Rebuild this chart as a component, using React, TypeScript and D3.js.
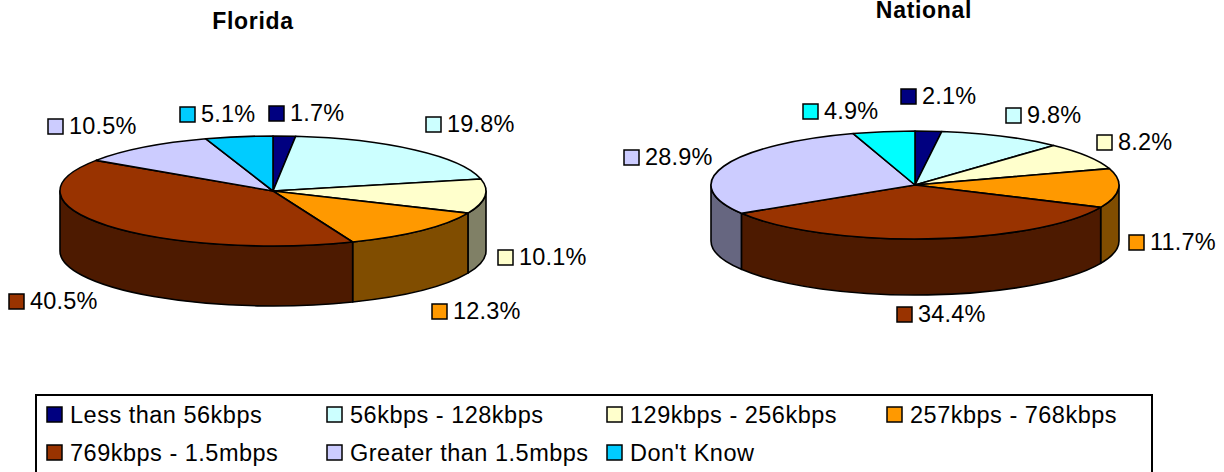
import * as d3 from "d3";

const categories = [
  "Less than 56kbps",
  "56kbps - 128kbps",
  "129kbps - 256kbps",
  "257kbps - 768kbps",
  "769kbps - 1.5mbps",
  "Greater than 1.5mbps",
  "Don't Know",
];
const floridaValues = [1.7, 19.8, 10.1, 12.3, 40.5, 10.5, 5.1];
const nationalValues = [2.1, 9.8, 8.2, 11.7, 34.4, 28.9, 4.9];
const sliceColors = ["#000080", "#CCFFFF", "#FFFFCC", "#FF9900", "#993300", "#CCCCFF", "#00CCFF"];
const nationalColors = ["#000080", "#CCFFFF", "#FFFFCC", "#FF9900", "#993300", "#CCCCFF", "#00FFFF"];

// Left edge of each data-label marker and the vertical centre of its text.
const floridaLabelSpots: [number, number][] = [
  [269, 113], [426, 124], [498, 257], [432, 311], [9, 301], [48, 126], [180, 114],
];
const nationalLabelSpots: [number, number][] = [
  [901, 96], [1006, 115], [1097, 142], [1129, 242], [897, 314], [624, 157], [803, 111],
];

const FONT = "'Liberation Sans', Arial, sans-serif";
const FONT_SIZE = 23.5;

type PieSpec = {
  title: string;
  titleX: number;
  titleY: number;
  values: number[];
  colors: string[];
  spots: [number, number][];
  cx: number;
  cy: number;
  rx: number;
  ry: number;
  depth: number;
};

function Pie3D({ title, titleX, titleY, values, colors, spots, cx, cy, rx, ry, depth }: PieSpec) {
  const arcs = d3.pie<number>().sort(null).startAngle(0).endAngle(2 * Math.PI)(values);
  const xAt = (t: number) => cx + rx * Math.sin(t);
  const yAt = (t: number) => cy - ry * Math.cos(t);
  const shade = (c: string) => d3.interpolateRgb(c, "#000000")(0.5);

  // The wall is only visible on the front half of the ellipse.
  const walls = arcs
    .map((a, i) => {
      const t0 = Math.max(a.startAngle, Math.PI / 2);
      const t1 = Math.min(a.endAngle, (3 * Math.PI) / 2);
      if (t1 <= t0) return null;
      const top = `M${xAt(t0)},${yAt(t0)}A${rx},${ry} 0 0 1 ${xAt(t1)},${yAt(t1)}`;
      const bottom = `L${xAt(t1)},${yAt(t1) + depth}A${rx},${ry} 0 0 0 ${xAt(t0)},${yAt(t0) + depth}Z`;
      return <path key={i} d={top + bottom} fill={shade(colors[i])} stroke="#000" strokeWidth={1.6} strokeLinejoin="round" />;
    })
    .filter(Boolean);

  const slices = arcs.map((a, i) => {
    const large = a.endAngle - a.startAngle > Math.PI ? 1 : 0;
    const d = `M${cx},${cy}L${xAt(a.startAngle)},${yAt(a.startAngle)}A${rx},${ry} 0 ${large} 1 ${xAt(a.endAngle)},${yAt(a.endAngle)}Z`;
    return <path key={i} d={d} fill={colors[i]} stroke="#000" strokeWidth={1.6} strokeLinejoin="round" />;
  });

  return (
    <g>
      <text x={titleX} y={titleY} textAnchor="middle" fontFamily={FONT} fontSize={23} letterSpacing={0.7} fontWeight="bold" fill="#000">
        {title}
      </text>
      {walls}
      {slices}
      {values.map((v, i) => (
        <g key={i}>
          <rect x={spots[i][0]} y={spots[i][1] - 7} width={15} height={15} fill={colors[i]} stroke="#000" strokeWidth={1.5} />
          <text x={spots[i][0] + 21} y={spots[i][1] + 8} fontFamily={FONT} fontSize={FONT_SIZE} letterSpacing={0.2} fill="#000">
            {`${v.toFixed(1)}%`}
          </text>
        </g>
      ))}
    </g>
  );
}

export default function App() {
  const legendColumn = d3.scalePoint<number>().domain([0, 1, 2, 3]).range([47, 887]);
  const legendRow = d3.scalePoint<number>().domain([0, 1]).range([415, 453]);
  return (
    <svg width={1224} height={472} style={{ position: "absolute", left: 0, top: 0, background: "#fff" }}>
      <Pie3D title="Florida" titleX={253} titleY={28.5} values={floridaValues} colors={sliceColors} spots={floridaLabelSpots} cx={273} cy={191} rx={213} ry={55} depth={60} />
      <Pie3D title="National" titleX={924} titleY={18} values={nationalValues} colors={nationalColors} spots={nationalLabelSpots} cx={915} cy={185} rx={204} ry={54} depth={56} />
      <rect x={36} y={395} width={1116} height={82} fill="#fff" stroke="#000" strokeWidth={2} />
      {categories.map((c, i) => {
        const col = i % 4;
        const row = Math.floor(i / 4);
        const x = legendColumn(col)!;
        const y = legendRow(row)!;
        return (
          <g key={c}>
            <rect x={x} y={y - 8} width={15} height={15} fill={sliceColors[i]} stroke="#000" strokeWidth={1.5} />
            <text x={x + 23} y={y + 8} fontFamily={FONT} fontSize={FONT_SIZE} letterSpacing={0.5} fill="#000">
              {c}
            </text>
          </g>
        );
      })}
    </svg>
  );
}
